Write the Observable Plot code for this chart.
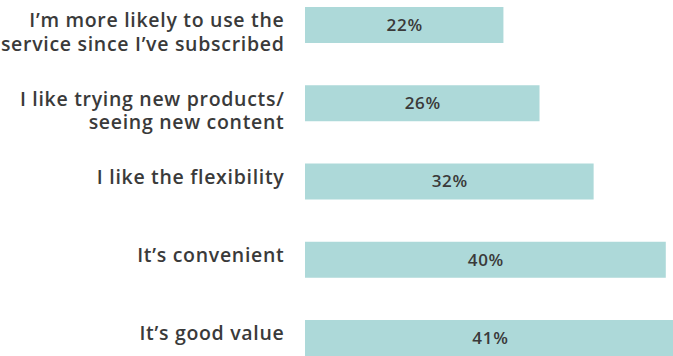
<!DOCTYPE html>
<html><head><meta charset="utf-8">
<script src="https://cdn.jsdelivr.net/npm/d3@7"></script>
<script src="https://cdn.jsdelivr.net/npm/@observablehq/plot@0.6"></script>
<style>body{margin:0;background:#fff;overflow:hidden}</style>
</head><body><div id="chart"></div>
<script>
const categories = [
  "I’m more likely to use the\nservice since I’ve subscribed",
  "I like trying new products/\nseeing new content",
  "I like the flexibility",
  "It’s convenient",
  "It’s good value"
];
const values = [22, 26, 32, 40, 41];
const valueLabels = ["22%", "26%", "32%", "40%", "41%"];

const data = categories.map((c, i) => ({category: c, value: values[i], label: valueLabels[i]}));

const chart = Plot.plot({
  width: 673,
  height: 356,
  marginLeft: 305,
  marginRight: 0,
  marginTop: 7,
  marginBottom: 0,
  x: {domain: [0, 40.8], axis: null},
  y: {domain: categories, axis: null, paddingInner: 0.54, paddingOuter: 0, round: false},
  style: {fontFamily: "'Open Sans', sans-serif", background: "#fff", letterSpacing: "0.7px"},
  marks: [
    Plot.barX(data, {x: "value", y: "category", fill: "#add9d9"}),
    Plot.text(data, {x: d => d.value / 2, y: "category", text: "label", fontSize: 17, fontWeight: 600, fill: "#3a3a3a"}),
    Plot.text(data, {frameAnchor: "left", y: "category", text: "category", textAnchor: "end", lineAnchor: "top", dx: -21, dy: -15, fontSize: 19.5, fontWeight: 600, fill: "#3a3a3a", lineHeight: 1.22})
  ]
});
document.getElementById("chart").appendChild(chart);
</script>
</body></html>
